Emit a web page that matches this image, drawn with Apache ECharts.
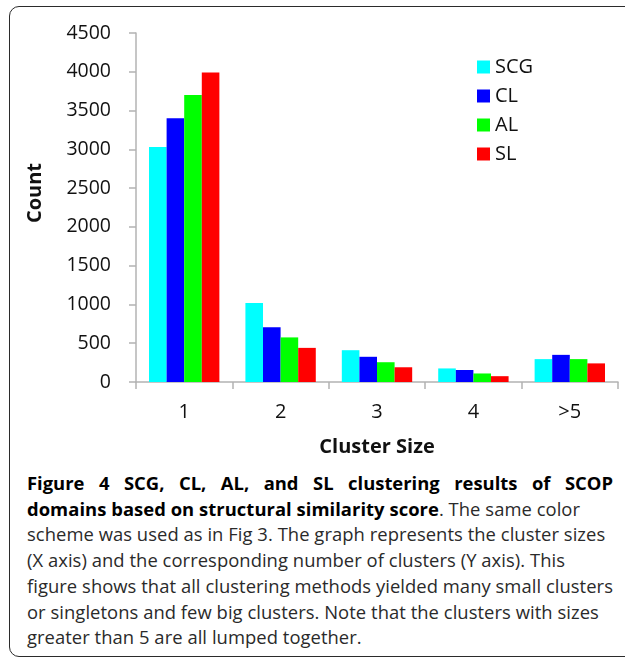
<!DOCTYPE html>
<html>
<head>
<meta charset="utf-8">
<script src="https://cdn.jsdelivr.net/npm/echarts@6/dist/echarts.min.js"></script>
<style>
  html, body { margin: 0; padding: 0; background: #fff; overflow: hidden; }
  #page { width: 625px; height: 659px; position: relative; overflow: hidden; font-family: 'Open Sans', sans-serif; }
  #chart { position: absolute; left: 0; top: 0; width: 625px; height: 470px; }
  .frame {
    position: absolute; left: 9px; top: 6px; width: 680px; height: 651px;
    border: 1.5px solid #2b2b2b; border-radius: 10px; box-sizing: border-box;
  }
  .caption {
    position: absolute; left: 27px; top: 470px; width: 700px;
    font-size: 18.4px; line-height: 25.7px; color: #2a2a2a; letter-spacing: 0.05px;
  }
  .caption div { white-space: nowrap; }
  .caption .just { width: 586px; text-align: justify; text-align-last: justify; letter-spacing: 0; }
  .caption b { color: #000; }
</style>
</head>
<body>
<div id="page">
<div class="frame"></div>
<div id="chart"></div>
<div class="caption">
  <div class="just"><b>Figure 4 SCG, CL, AL, and SL clustering results of SCOP</b></div>
  <div><b>domains based on structural similarity score</b>. The same color</div>
  <div>scheme was used as in Fig 3. The graph represents the cluster sizes</div>
  <div>(X axis) and the corresponding number of clusters (Y axis). This</div>
  <div>figure shows that all clustering methods yielded many small clusters</div>
  <div>or singletons and few big clusters. Note that the clusters with sizes</div>
  <div>greater than 5 are all lumped together.</div>
</div>
</div>
<script>
// cluster sizes on the x axis
const categories = ['1', '2', '3', '4', '>5'];
const seriesNames = ['SCG', 'CL', 'AL', 'SL'];
const colors = ['#00ffff', '#0000ff', '#00ff00', '#ff0000'];

// number of clusters
const scgValues = [3030, 1020, 410, 175, 295];
const clValues = [3400, 705, 325, 155, 350];
const alValues = [3700, 575, 255, 110, 295];
const slValues = [3990, 440, 190, 75, 240];

const yMin = 0;
const yMax = 4500;
const yStep = 500;

const chart = echarts.init(document.getElementById('chart'));
const allValues = [scgValues, clValues, alValues, slValues];
const fontFamily = "'Open Sans', sans-serif";

const option = {
  animation: false,
  backgroundColor: 'transparent',
  textStyle: { fontFamily: fontFamily },
  legend: {
    data: seriesNames,
    orient: 'vertical',
    left: 472,
    top: 52,
    itemWidth: 13,
    itemHeight: 13,
    itemGap: 9,
    icon: 'rect',
    textStyle: { fontSize: 20, color: '#111', lineHeight: 20, fontFamily: fontFamily }
  },
  grid: {
    left: 136,
    right: 7,
    top: 33,
    bottom: 88
  },
  xAxis: {
    type: 'category',
    data: categories,
    name: 'Cluster Size',
    nameLocation: 'middle',
    nameGap: 55,
    nameTextStyle: { fontSize: 20, fontWeight: 'bold', color: '#111', fontFamily: fontFamily },
    axisLine: { lineStyle: { color: '#b3b3b3', width: 1.5 } },
    axisTick: { show: true, length: 7, lineStyle: { color: '#b3b3b3', width: 1.5 } },
    axisLabel: { fontSize: 20, color: '#111', margin: 20, fontFamily: fontFamily }
  },
  yAxis: {
    type: 'value',
    min: yMin,
    max: yMax,
    interval: yStep,
    axisLine: { show: true, lineStyle: { color: '#b3b3b3', width: 1.5 } },
    axisTick: { show: true, length: 7, lineStyle: { color: '#b3b3b3', width: 1.5 } },
    splitLine: { show: false },
    axisLabel: {
      fontSize: 19.5, color: '#111', margin: 25, fontFamily: fontFamily,
      formatter: v => String(v)
    }
  },
  graphic: [{
    type: 'text',
    left: 25,
    top: 163,
    rotation: Math.PI / 2,
    style: {
      text: 'Count',
      fontSize: 20,
      fontWeight: 'bold',
      fill: '#111',
      fontFamily: fontFamily
    }
  }],
  series: seriesNames.map((name, i) => ({
    name: name,
    type: 'bar',
    data: allValues[i],
    barGap: '0%',
    barCategoryGap: '27%',
    itemStyle: { color: colors[i] }
  }))
};

chart.setOption(option);
</script>
</body>
</html>
